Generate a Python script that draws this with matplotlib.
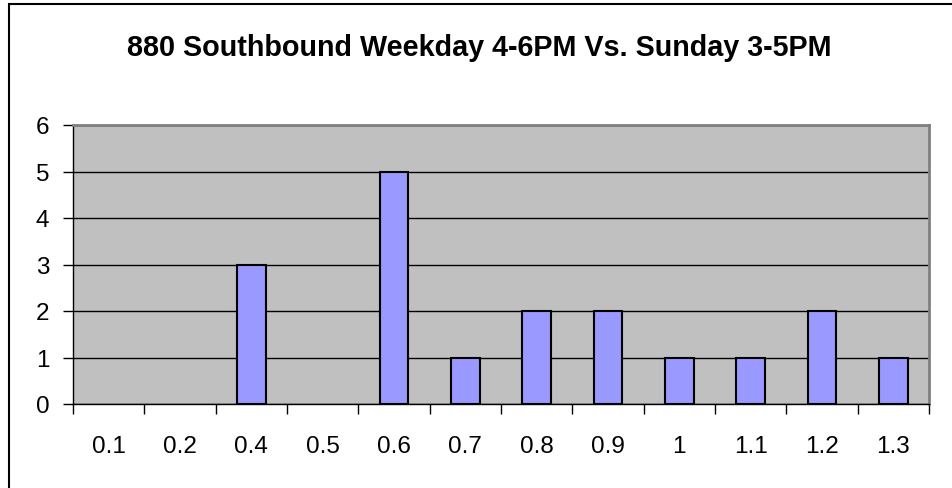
import numpy as np
import matplotlib.pyplot as plt
from matplotlib.patches import Rectangle

plt.rcParams['font.family'] = ['Liberation Sans', 'DejaVu Sans']

categorias = ['0.1', '0.2', '0.4', '0.5', '0.6', '0.7', '0.8', '0.9', '1', '1.1', '1.2', '1.3']
frecuencia = [0, 0, 3, 0, 5, 1, 2, 2, 1, 1, 2, 1]

fig = plt.figure(figsize=(9.53, 4.89), dpi=100)
ax = fig.add_axes([73 / 953, 1 - 405 / 489, (929 - 73) / 953, (405 - 126) / 489])

# marco del grafico
fig.patches.append(Rectangle((9 / 953, -0.1), 1.2, (489 - 5) / 489 + 0.1,
                             transform=fig.transFigure, fill=False,
                             edgecolor='black', linewidth=1.5))

x = np.arange(len(categorias))
bordes = ['black' if v > 0 else 'none' for v in frecuencia]
ax.bar(x, frecuencia, width=0.4, color='#9999FF', edgecolor=bordes, linewidth=1.5, zorder=3)

ax.set_facecolor('#C0C0C0')
ax.set_xlim(-0.5, len(categorias) - 0.5)
ax.set_ylim(0, 6)
ax.set_yticks(range(0, 7))
ax.yaxis.grid(True, color='black', linewidth=1)
ax.set_axisbelow(True)

ax.set_xticks(x)
ax.set_xticklabels(categorias)
ax.set_xticks(np.arange(-0.5, len(categorias)), minor=True)
ax.tick_params(axis='x', which='major', length=0, pad=22, labelsize=17.5)
ax.tick_params(axis='x', which='minor', length=7, width=1, direction='out')
ax.tick_params(axis='y', length=7, width=1, direction='out', pad=10, labelsize=17.5)

for lado in ['top', 'right']:
    ax.spines[lado].set_color('#808080')
    ax.spines[lado].set_linewidth(2)
for lado in ['left', 'bottom']:
    ax.spines[lado].set_color('black')
    ax.spines[lado].set_linewidth(1)

fig.text(479 / 953, 1 - 48 / 489, '880 Southbound Weekday 4-6PM Vs. Sunday 3-5PM',
         ha='center', va='center', fontsize=20.7, fontweight='bold')

plt.savefig('out.png', dpi=100)
